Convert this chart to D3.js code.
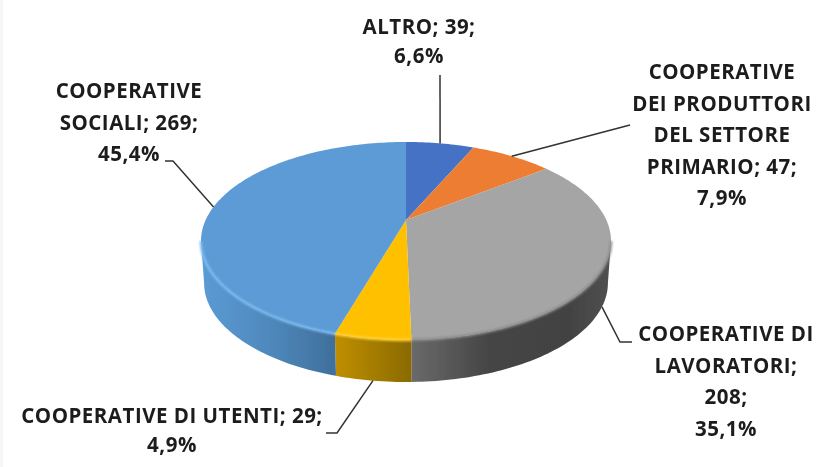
<!DOCTYPE html>
<html>
<head>
<meta charset="utf-8">
<script src="https://cdn.jsdelivr.net/npm/d3@7"></script>
<style>
  html, body { margin: 0; padding: 0; background: #fff; }
  text { font-family: "Open Sans", Lato, sans-serif; font-weight: 700; fill: #1c1c1c; }
</style>
</head>
<body>
<div id="chart"></div>
<script>
const width = 826, height = 467;

// Data, clockwise from twelve o'clock
const categories = ['ALTRO', 'COOPERATIVE DEI PRODUTTORI DEL SETTORE PRIMARIO', 'COOPERATIVE DI LAVORATORI', 'COOPERATIVE DI UTENTI', 'COOPERATIVE SOCIALI'];
const values = [39, 47, 208, 29, 269];
const percents = ['6,6%', '7,9%', '35,1%', '4,9%', '45,4%'];
const labelLines = [
    ['ALTRO; 39;', '6,6%'],
    ['COOPERATIVE', 'DEI PRODUTTORI', 'DEL SETTORE', 'PRIMARIO; 47;', '7,9%'],
    ['COOPERATIVE DI', 'LAVORATORI;', '208;', '35,1%'],
    ['COOPERATIVE DI UTENTI; 29;', '4,9%'],
    ['COOPERATIVE', 'SOCIALI; 269;', '45,4%']
];
const topColors = ['#4472c4', '#ed7d31', '#a5a5a5', '#ffc000', '#5b9bd5'];
const rimColors = ['#4472c4', '#ed7d31', '#8a8a8a', '#ffd23c', '#7cbcf0'];
const wallStops = [
    ['#2f5597', '#2f5597'],
    ['#ad5a20', '#ad5a20'],
    ['#6a6a6a', '#444444', '#434343', '#505050'],
    ['#c08f00', '#8a6a04'],
    ['#5b9bd5', '#4f89bd', '#3f6f9b']
];

// Label layout: centre x and first line y, then the leader elbow points
const labelPos = [[419, 27], [722, 72], [726, 334], [172, 416], [129, 91]];
const labelGap = [29, 31.5, 31.5, 29, 31.5];
const leaderEnds = [
    [[440, 75]],
    [[630, 125]],
    [[620, 342], [632, 342]],
    [[337, 433], [326, 433]],
    [[173, 161], [165, 161]]
];

// Perspective disc: a unit circle mapped onto the top ellipse
const cx = 406, cy = 241, rx = 205, ry = 99, k = -0.212, depth = 42, bottomScale = 0.985;
function project(angle, drop) {
    const u = Math.sin(angle), v = -Math.cos(angle), w = 1 + k * v;
    const X = u * Math.sqrt(1 - k * k) / w, Y = (v + k) / w;
    const s = drop ? bottomScale : 1;
    return [cx + rx * X * s, cy + ry * Y + (drop ? depth : 0)];
}

// only this stretch of the rim faces the viewer
const wallStart = Math.acos(k), wallEnd = 2 * Math.PI - Math.acos(k);

const svg = d3.select('#chart').append('svg')
    .attr('width', width)
    .attr('height', height)
    .style('display', 'block');

// pale strip down the left edge of the picture
svg.append('rect').attr('width', 3).attr('height', height).attr('fill', '#f6f6f6');

const defs = svg.append('defs');
defs.append('filter').attr('id', 'soft').attr('x', '-5%').attr('y', '-5%').attr('width', '110%').attr('height', '110%')
    .append('feGaussianBlur').attr('stdDeviation', 0.7);
defs.append('filter').attr('id', 'rimBlur').attr('x', '-5%').attr('y', '-10%').attr('width', '110%').attr('height', '120%')
    .append('feGaussianBlur').attr('stdDeviation', 1.1);
defs.append('filter').attr('id', 'textSoft')
    .append('feGaussianBlur').attr('stdDeviation', 0.4);

const pie = d3.pie().sort(null).value(d => d);
const arcs = pie(values);
const line = d3.line();

function arcPoints(a0, a1, drop) {
    const n = Math.max(2, Math.ceil(Math.abs(a1 - a0) / 0.02));
    return d3.range(n + 1).map(i => project(a0 + (a1 - a0) * i / n, drop));
}

const pieG = svg.append('g').attr('filter', 'url(#soft)');

// Side wall, one piece per visible slice
arcs.forEach((d, i) => {
    const a0 = Math.max(d.startAngle, wallStart), a1 = Math.min(d.endAngle, wallEnd);
    if (a1 <= a0) return;
    const top = arcPoints(a0, a1, false), bottom = arcPoints(a1, a0, true);
    const xs = top.concat(bottom).map(p => p[0]);
    const grad = defs.append('linearGradient')
        .attr('id', 'wall' + i)
        .attr('gradientUnits', 'userSpaceOnUse')
        .attr('x1', d3.min(xs)).attr('x2', d3.max(xs)).attr('y1', 0).attr('y2', 0);
    const stops = wallStops[i];
    grad.selectAll('stop').data(stops).join('stop')
        .attr('offset', (c, j) => i === 2 ? [0, 0.4, 0.8, 1][j] : j / (stops.length - 1))
        .attr('stop-color', c => c);
    pieG.append('path')
        .attr('d', line(top.concat(bottom)) + 'Z')
        .attr('fill', 'url(#wall' + i + ')');
});

// Top face, every slice meets at the projected centre
pieG.selectAll('.slice')
    .data(arcs)
    .join('path')
    .attr('class', 'slice')
    .attr('fill', (d, i) => topColors[i])
    .attr('d', d => line([[cx, cy + ry * k]].concat(arcPoints(d.startAngle, d.endAngle, false))) + 'Z')
    .append('title')
    .text((d, i) => categories[i] + '; ' + values[i] + '; ' + percents[i]);

// Bevel along the front rim
const rimG = svg.append('g').attr('filter', 'url(#rimBlur)');
arcs.forEach((d, i) => {
    const a0 = Math.max(d.startAngle, wallStart), a1 = Math.min(d.endAngle, wallEnd);
    if (a1 <= a0) return;
    rimG.append('path')
        .attr('d', line(arcPoints(a0, a1, false)))
        .attr('fill', 'none')
        .attr('stroke', rimColors[i])
        .attr('stroke-width', 2.5);
});

// Leader lines start at the middle of each slice's outer edge
svg.selectAll('.leader')
    .data(arcs)
    .join('path')
    .attr('class', 'leader')
    .attr('fill', 'none')
    .attr('stroke', '#333')
    .attr('stroke-width', 1.5)
    .attr('d', (d, i) => {
        const mid = (d.startAngle + d.endAngle) / 2;
        const front = mid > wallStart && mid < wallEnd;
        return line([project(mid, front)].concat(leaderEnds[i]));
    });

// Labels
const labels = svg.selectAll('.label')
    .data(labelLines)
    .join('text')
    .attr('class', 'label')
    .attr('filter', 'url(#textSoft)')
    .attr('text-anchor', 'middle')
    .style('font-size', '20.5px')
    .style('letter-spacing', '0.5px');

labels.selectAll('tspan')
    .data((d, i) => d.map((t, j) => ({ t: t, x: labelPos[i][0], y: labelPos[i][1] + j * labelGap[i] })))
    .join('tspan')
    .attr('x', d => d.x)
    .attr('y', d => d.y)
    .attr('dy', '0.35em')
    .text(d => d.t);
</script>
</body>
</html>
